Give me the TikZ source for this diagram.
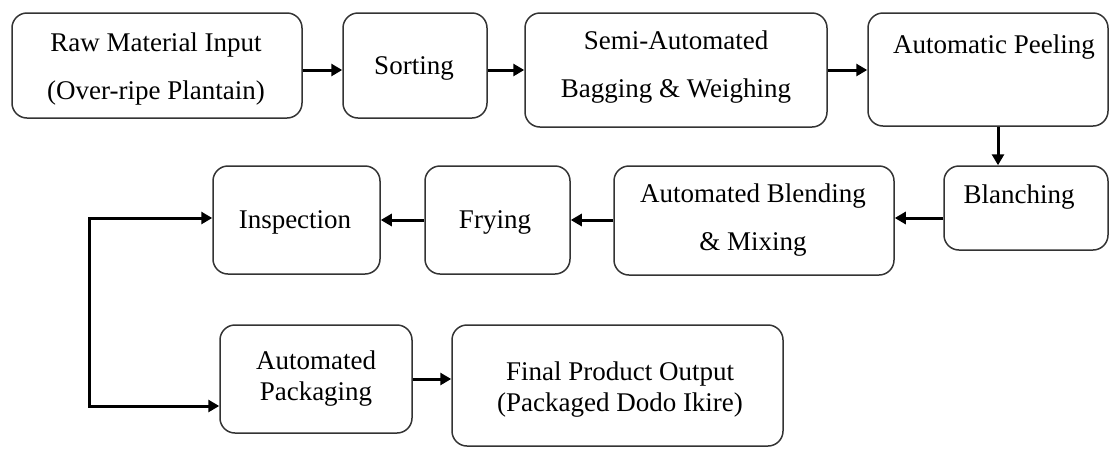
\documentclass[tikz,border=0pt]{standalone}
\usepackage{fontspec}
\setmainfont{Liberation Serif}
\usetikzlibrary{arrows.meta,calc}
\begin{document}
\begin{tikzpicture}[x=1pt,y=-1pt,
  box/.style={draw=black!80, line width=1.5pt, rounded corners=15pt, inner sep=0pt},
  txt/.style={align=center, inner sep=0pt, font=\fontsize{27}{31}\selectfont},
  txtwide/.style={align=center, inner sep=0pt, font=\fontsize{27}{48}\selectfont},
  arr/.style={line width=3pt, -{Triangle[length=11pt,width=12pt]}},
  arrboth/.style={line width=3pt, {Triangle[length=11pt,width=12pt]}-{Triangle[length=11pt,width=12pt]}}]
\useasboundingbox (0,0) rectangle (1112,448);
% boxes
\node[box, minimum width=290, minimum height=105] (b1) at (157,65.5) {};
\node[box, minimum width=144, minimum height=105] (b2) at (415,65.5) {};
\node[box, minimum width=302, minimum height=114] (b3) at (676,70) {};
\node[box, minimum width=240, minimum height=113] (b4) at (988,69.5) {};
\node[box, minimum width=164, minimum height=84] (b5) at (1026,208) {};
\node[box, minimum width=280, minimum height=109] (b6) at (754,220.5) {};
\node[box, minimum width=145, minimum height=108] (b7) at (497.5,220) {};
\node[box, minimum width=167, minimum height=108] (b8) at (296.5,220) {};
\node[box, minimum width=192, minimum height=108] (b9) at (316,379) {};
\node[box, minimum width=331, minimum height=121] (b10) at (617.5,385.5) {};
% texts
\node[txtwide] (t1) at (156,69) {Raw Material Input\\(Over-ripe Plantain)};
\node[txt] (t2) at (414,68) {Sorting};
\node[txtwide] (t3) at (676,67.5) {Semi-Automated\\Bagging \& Weighing};
\node[txt] (t4) at (994,47) {Automatic Peeling};
\node[txt] (t5) at (1019,197) {Blanching};
\node[txtwide] (t6) at (753,220) {Automated Blending\\\& Mixing};
\node[txt] (t7) at (495,222) {Frying};
\node[txt] (t8) at (295,222) {Inspection};
\node[txt] (t9) at (316,379) {Automated\\Packaging};
\node[txt] (t10) at (620,390) {Final Product Output\\(Packaged Dodo Ikire)};
% connectors
\draw[arr] ($(b1.east)+(0,4.5)$) -- ($(b2.west)+(0,4.5)$);
\draw[arr] ($(b2.east)+(0,4.5)$) -- (b3.west);
\draw[arr] (b3.east) -- (b3.east -| b4.west);
\coordinate (p4) at ($(b4.south)+(10,0)$);
\draw[arr] (p4) -- (p4 |- b5.north);
\coordinate (p5) at ($(b5.west)+(0,10)$);
\draw[arr] (p5) -- (p5 -| b6.east);
\draw[arr] (b6.west |- b7.east) -- (b7.east);
\draw[arr] (b7.west) -- (b8.east);
\coordinate (lt) at (89,218);
\coordinate (lb) at (89,406);
\draw[arrboth] (b8.west |- lt) -- (lt) -- (lb) -- (b9.west |- lb);
\draw[arr] (b9.east) -- (b9.east -| b10.west);
\end{tikzpicture}
\end{document}
